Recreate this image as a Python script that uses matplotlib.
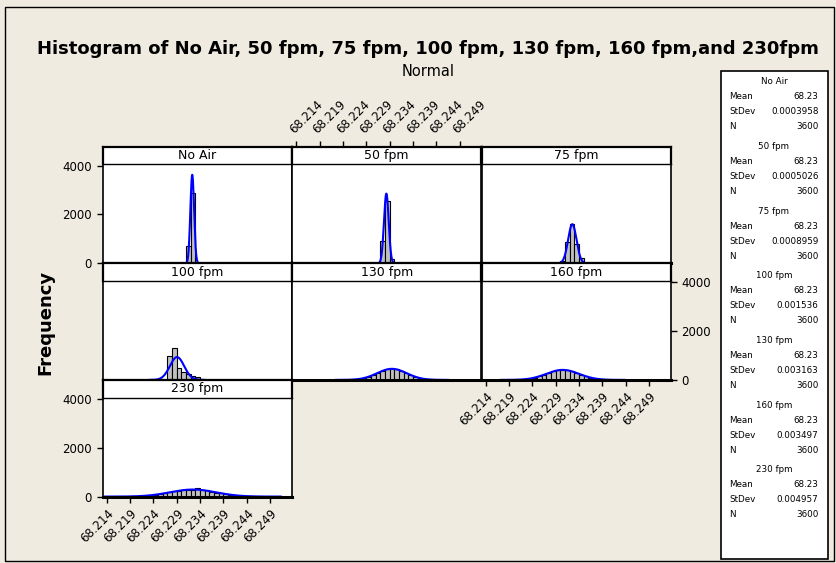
import numpy as np
import matplotlib
matplotlib.use("Agg")
import matplotlib.pyplot as plt
from matplotlib.patches import Rectangle

# ---------------- data ----------------
series_names = ["No Air", "50 fpm", "75 fpm", "100 fpm", "130 fpm", "160 fpm", "230 fpm"]
bin_width = 0.001
first_bin_left = [68.231, 68.232, 68.230, 68.227, 68.224, 68.219, 68.217]
counts_no_air = [700, 2900]
counts_50 = [900, 2540, 160]
counts_75 = [100, 870, 1630, 790, 210]
counts_100 = [980, 1320, 500, 320, 230, 150, 100]
counts_130 = [3, 8, 18, 40, 78, 128, 200, 295, 368, 430, 460, 440, 380, 290, 200,
              125, 70, 37, 18, 8, 3]
counts_160 = [3, 7, 15, 30, 56, 95, 150, 215, 290, 350, 400, 415, 395, 345, 280,
              210, 145, 92, 55, 28, 14, 7, 3]
counts_230 = [2, 4, 8, 14, 22, 35, 55, 75, 105, 140, 170, 215, 245, 280, 280, 280,
              350, 270, 250, 200, 165, 130, 100, 70, 50, 35, 22, 14, 8, 4, 2]
all_counts = [counts_no_air, counts_50, counts_75, counts_100, counts_130, counts_160, counts_230]
mean_labels = ["68.23"] * 7
stdevs = [0.0003958, 0.0005026, 0.0008959, 0.001536, 0.003163, 0.003497, 0.004957]
stdev_labels = ["0.0003958", "0.0005026", "0.0008959", "0.001536", "0.003163", "0.003497", "0.004957"]
n_obs = [3600] * 7
x_ticks = [68.214, 68.219, 68.224, 68.229, 68.234, 68.239, 68.244, 68.249]
x_tick_labels = ["68.214", "68.219", "68.224", "68.229", "68.234", "68.239", "68.244", "68.249"]
y_ticks = [0, 2000, 4000]
y_tick_labels = ["0", "2000", "4000"]
title_text = "Histogram of No Air, 50 fpm, 75 fpm, 100 fpm, 130 fpm, 160 fpm,and 230fpm"
subtitle_text = "Normal"
ylabel_text = "Frequency"

# ---------------- style / layout ----------------
W, H = 836, 563
BG = "#EFEBE0"
BAR = "#C0C0C0"
BLUE = "#0000FF"
plt.rcParams["font.family"] = ["DejaVu Sans"]

fig = plt.figure(figsize=(W / 100, H / 100), dpi=100, facecolor=BG)

def fx(x):
    return x / W

def fy(y):
    return 1 - y / H

col_left = [102.5, 292.0, 481.5]
col_w = 189.5
row_top = [146.7, 263.3, 380.0]
row_h = 116.6
strip_h = 17.6
xlim = (68.21308, 68.25368)
ylim = (0, 4057)

# outer frame
fig.add_artist(Rectangle((fx(5), fy(561)), fx(829), 554 / H, transform=fig.transFigure,
                         fill=False, edgecolor="black", linewidth=1.0))

tick_kw = dict(length=4, width=1, labelsize=8.5, colors="black", direction="out")

for i, name in enumerate(series_names):
    r, c = divmod(i, 3)
    left = col_left[c]
    top = row_top[r]
    ax = fig.add_axes([fx(left), fy(top + row_h), fx(col_w), (row_h - strip_h) / H])
    st = fig.add_axes([fx(left), fy(top + strip_h), fx(col_w), strip_h / H])
    for a in (ax, st):
        a.set_xlim(*xlim)
        a.set_facecolor("white")
        a.tick_params(bottom=False, left=False, top=False, right=False,
                      labelbottom=False, labelleft=False, labeltop=False, labelright=False)
    ax.set_ylim(*ylim)
    st.set_ylim(0, 1)
    st.set_yticks([])
    st.set_xticks([])
    st.text(0.5, 0.5, name, transform=st.transAxes, ha="center", va="center", fontsize=9)
    for s in st.spines.values():
        s.set_linewidth(1.6)
    st.spines["bottom"].set_linewidth(1.0)
    for s in ax.spines.values():
        s.set_linewidth(1.2)
    ax.spines["top"].set_visible(False)
    ax.spines["bottom"].set_linewidth(2.2)

    counts = np.array(all_counts[i], dtype=float)
    centers = first_bin_left[i] + bin_width * (np.arange(len(counts)) + 0.5)
    # empty bins across the whole range
    grid = np.arange(68.2135, 68.2535, bin_width)
    ax.bar(grid, np.zeros_like(grid), width=bin_width, facecolor=BAR, edgecolor="black",
           linewidth=0.8, linestyle="--")
    ax.bar(centers, counts, width=bin_width, facecolor=BAR, edgecolor="black", linewidth=0.8)
    mu = np.sum(centers * counts) / np.sum(counts)
    sd = stdevs[i]
    xs = np.linspace(mu - 3.8 * sd, mu + 3.8 * sd, 300)
    ys = n_obs[i] * bin_width / (sd * np.sqrt(2 * np.pi)) * np.exp(-0.5 * ((xs - mu) / sd) ** 2)
    ax.plot(xs, ys, color=BLUE, linewidth=1.5, clip_on=False)

    # axis ticks in the Minitab alternating layout
    if c == 0 and r in (0, 2):
        ax.set_yticks(y_ticks)
        ax.set_yticklabels(y_tick_labels)
        ax.tick_params(left=True, labelleft=True, **tick_kw)
    if c == 2 and r == 1:
        ax.set_yticks(y_ticks)
        ax.set_yticklabels(y_tick_labels)
        ax.tick_params(right=True, labelright=True, **tick_kw)
    if (c == 0 and r == 2) or (c == 2 and r == 1):
        ax.set_xticks(x_ticks)
        ax.set_xticklabels(x_tick_labels)
        ax.tick_params(bottom=True, labelbottom=True, **tick_kw)
        plt.setp(ax.get_xticklabels(), rotation=45, ha="right", rotation_mode="anchor")
    if c == 1 and r == 0:
        st.set_xticks(x_ticks)
        st.set_xticklabels(x_tick_labels)
        st.tick_params(top=True, labeltop=True, **tick_kw)
        plt.setp(st.get_xticklabels(), rotation=45, ha="left", rotation_mode="anchor")

# titles
fig.text(fx(428), fy(49), title_text, ha="center", va="center", fontsize=13, fontweight="bold")
fig.text(fx(428), fy(71), subtitle_text, ha="center", va="center", fontsize=10.5)
fig.text(fx(45), fy(322), ylabel_text, ha="center", va="center", fontsize=13,
         fontweight="bold", rotation=90)

# legend box
fig.add_artist(Rectangle((fx(720.7), fy(559)), fx(107), (559 - 70.7) / H,
                         transform=fig.transFigure, facecolor="white",
                         edgecolor="black", linewidth=1.2))
for g, name in enumerate(series_names):
    y0 = 81.7 + g * 64.7
    fig.text(fx(774), fy(y0), name, ha="center", va="center", fontsize=6.3)
    rows = [("Mean", mean_labels[g]), ("StDev", stdev_labels[g]), ("N", str(n_obs[g]))]
    for k, (lab, val) in enumerate(rows):
        yy = y0 + 15 * (k + 1)
        fig.text(fx(729.5), fy(yy), lab, ha="left", va="center", fontsize=6.3)
        fig.text(fx(818.5), fy(yy), val, ha="right", va="center", fontsize=6.3)

fig.savefig("out.png", dpi=100, facecolor=BG)
